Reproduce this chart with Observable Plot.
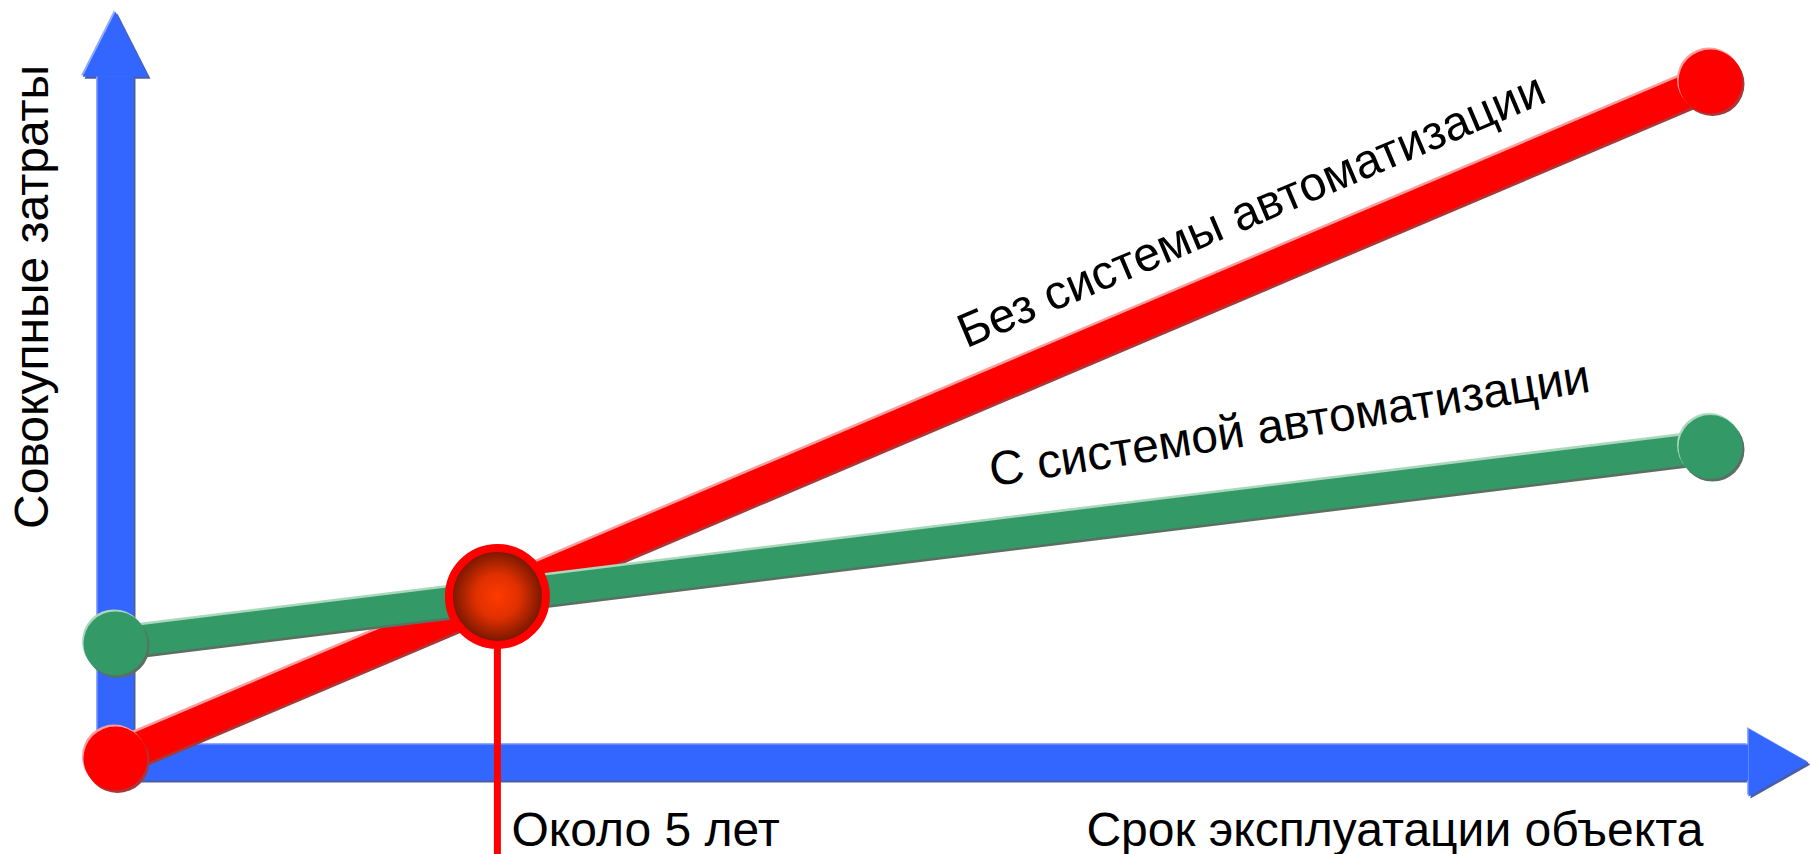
<!DOCTYPE html>
<html>
<head>
<meta charset="utf-8">
<script src="https://cdn.jsdelivr.net/npm/d3@7"></script>
<script src="https://cdn.jsdelivr.net/npm/@observablehq/plot@0.6"></script>
<style>
html, body { margin: 0; padding: 0; background: #fff; }
svg { display: block; }
</style>
</head>
<body>
<div id="chart"></div>
<script>
// ---- data ----
const years = [0, 21];                 // срок эксплуатации (лет)
const costWithout = [0, 100];          // без системы автоматизации
const costWith = [17, 46];             // с системой автоматизации
const seriesNames = ["Без системы автоматизации", "С системой автоматизации"];
const labelYears = [11.2, 11.54];      // where each series label sits along its line
const xTitle = "Срок эксплуатации объекта";
const yTitle = "Совокупные затраты";
const crossLabel = "Около 5 лет";
const xAxisSpan = [-0.24, 21.5];       // horizontal axis shaft (years)
const yAxisSpan = [-3.1, 100.7];       // vertical axis shaft (cost)
const xAxisLevel = -0.6;
const dropTo = -15;

// ---- derived ----
const lineWithout = years.map((t, i) => ({year: t, cost: costWithout[i]}));
const lineWith = years.map((t, i) => ({year: t, cost: costWith[i]}));
const sA = (costWithout[1] - costWithout[0]) / (years[1] - years[0]);
const sB = (costWith[1] - costWith[0]) / (years[1] - years[0]);
const tCross = (costWith[0] - costWithout[0]) / (sA - sB);
const cross = {year: years[0] + tCross, cost: costWithout[0] + sA * tCross};
const onLine = (vals, t) => vals[0] + (vals[1] - vals[0]) * (t - years[0]) / (years[1] - years[0]);
const labels = [
  {text: seriesNames[0], year: labelYears[0], cost: onLine(costWithout, labelYears[0]), angle: -23},
  {text: seriesNames[1], year: labelYears[1], cost: onLine(costWith, labelYears[1]), angle: -9}
];

const headUp = {draw(ctx) { ctx.moveTo(0, -65); ctx.lineTo(33, 0); ctx.lineTo(-33, 0); ctx.closePath(); }};
const headRight = {draw(ctx) { ctx.moveTo(60, 0); ctx.lineTo(0, -34); ctx.lineTo(0, 34); ctx.closePath(); }};

const BLUE = "#3366ff", BLUE_D = "#4a5ea8", BLUE_L = "#93abff";
const RED = "#ff0000", RED_D = "#a83838", RED_L = "#ff9c9c";
const GREEN = "#339966", GREEN_D = "#5b6f63", GREEN_L = "#a9d8bd";
const FONT = 48;

function axisMarks(color, dx, dy) {
  return [
    Plot.ruleX([0], {y1: yAxisSpan[0], y2: yAxisSpan[1], stroke: color, strokeWidth: 36, dx, dy}),
    Plot.ruleY([xAxisLevel], {x1: xAxisSpan[0], x2: xAxisSpan[1], stroke: color, strokeWidth: 36, dx, dy}),
    Plot.dot([0], {x: 0, y: yAxisSpan[1], symbol: headUp, fill: color, stroke: "none", dx, dy}),
    Plot.dot([0], {x: xAxisSpan[1], y: xAxisLevel, symbol: headRight, fill: color, stroke: "none", dx, dy})
  ];
}
function seriesMarks(data, main, dark, light, width) {
  return [
    Plot.line(data, {x: "year", y: "cost", stroke: dark, strokeWidth: width, dx: 1, dy: 2.5}),
    Plot.line(data, {x: "year", y: "cost", stroke: light, strokeWidth: width, dx: -0.5, dy: -2.5}),
    Plot.line(data, {x: "year", y: "cost", stroke: main, strokeWidth: width})
  ];
}
function endDots(data, main, dark, light) {
  return [
    Plot.dot(data, {x: "year", y: "cost", r: 32, fill: dark, dx: 2, dy: 2.5}),
    Plot.dot(data, {x: "year", y: "cost", r: 32, fill: light, dx: -1.5, dy: -2}),
    Plot.dot(data, {x: "year", y: "cost", r: 32, fill: main})
  ];
}
const defsMark = () => {
  const defs = d3.create("svg:defs");
  const g = defs.append("radialGradient").attr("id", "ballGrad").attr("cx", "50%").attr("cy", "50%").attr("r", "50%");
  g.append("stop").attr("offset", "0%").attr("stop-color", "#ff3a00");
  g.append("stop").attr("offset", "45%").attr("stop-color", "#e03000");
  g.append("stop").attr("offset", "100%").attr("stop-color", "#6a1400");
  return defs.node();
};

const chart = Plot.plot({
  width: 1810,
  height: 854,
  marginLeft: 115,
  marginRight: 100,
  marginTop: 81,
  marginBottom: 96,
  x: {domain: [years[0], years[1]], axis: null},
  y: {domain: [0, 100], axis: null},
  style: {fontFamily: "'Liberation Sans', Arial, sans-serif", background: "#fff", overflow: "visible"},
  marks: [
    defsMark,
    ...axisMarks(BLUE_D, 2, 2),
    ...axisMarks(BLUE_L, -1.5, -1.5),
    ...axisMarks(BLUE, 0, 0),
    Plot.ruleX([cross], {x: "year", y1: "cost", y2: () => dropTo, stroke: RED, strokeWidth: 7}),
    ...seriesMarks(lineWithout, RED, RED_D, RED_L, 33),
    ...seriesMarks(lineWith, GREEN, GREEN_D, GREEN_L, 30),
    ...endDots(lineWithout, RED, RED_D, RED_L),
    ...endDots(lineWith, GREEN, GREEN_D, GREEN_L),
    Plot.dot([cross], {x: "year", y: "cost", r: 48.5, fill: "url(#ballGrad)", stroke: RED, strokeWidth: 8}),
    Plot.text(labels, {x: "year", y: "cost", text: "text", rotate: d => d.angle, dy: -49,
      textAnchor: "start", lineAnchor: "bottom", fontSize: FONT, fill: "#000"}),
    Plot.text([crossLabel], {x: () => cross.year, text: d => d, frameAnchor: "bottom", dx: 14, dy: 87,
      textAnchor: "start", lineAnchor: "bottom", fontSize: FONT, fill: "#000"}),
    Plot.text([xTitle], {text: d => d, frameAnchor: "bottom-right", dx: -7, dy: 87,
      textAnchor: "end", lineAnchor: "bottom", fontSize: FONT, fill: "#000"}),
    Plot.text([yTitle], {text: d => d, frameAnchor: "left", rotate: -90, dx: -68, dy: -123,
      textAnchor: "middle", lineAnchor: "bottom", fontSize: FONT, fill: "#000"})
  ]
});
document.getElementById("chart").appendChild(chart);
</script>
</body>
</html>
